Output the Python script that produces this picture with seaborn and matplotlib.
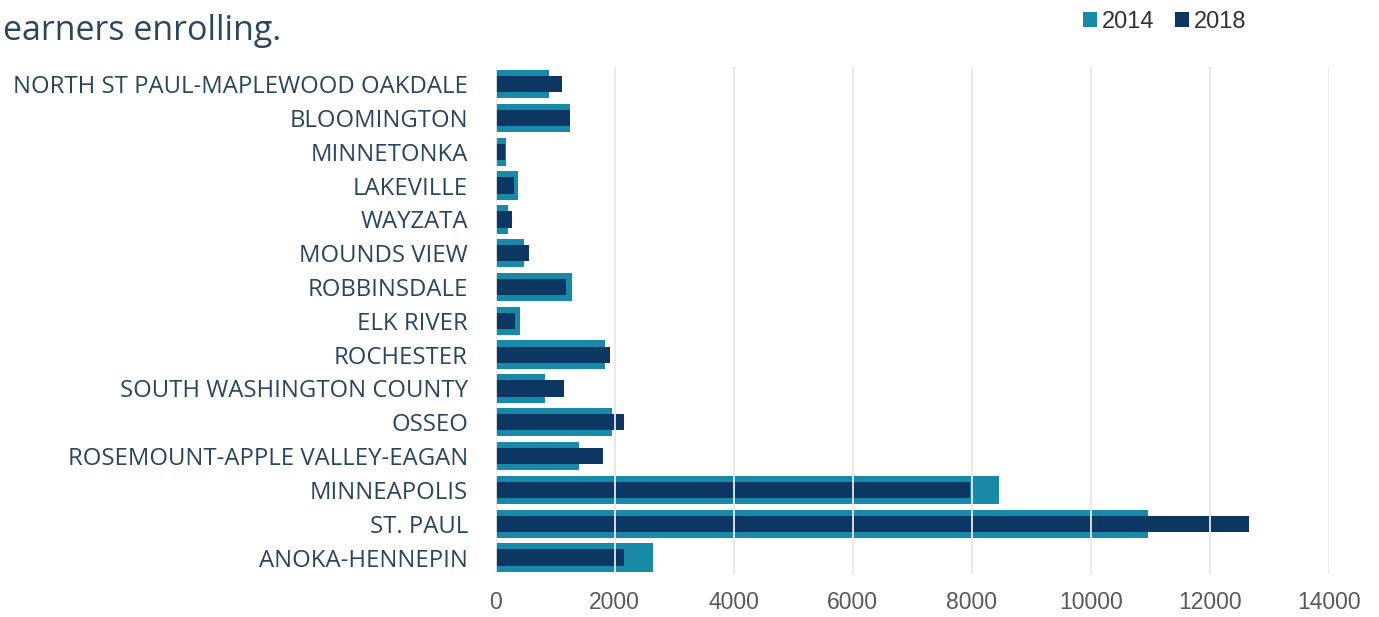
import matplotlib
matplotlib.use("Agg")
import matplotlib.pyplot as plt
import seaborn as sns
import pandas as pd
from matplotlib.patches import Patch

# School districts, listed top to bottom
districts = [
    "NORTH ST PAUL-MAPLEWOOD OAKDALE",
    "BLOOMINGTON",
    "MINNETONKA",
    "LAKEVILLE",
    "WAYZATA",
    "MOUNDS VIEW",
    "ROBBINSDALE",
    "ELK RIVER",
    "ROCHESTER",
    "SOUTH WASHINGTON COUNTY",
    "OSSEO",
    "ROSEMOUNT-APPLE VALLEY-EAGAN",
    "MINNEAPOLIS",
    "ST. PAUL",
    "ANOKA-HENNEPIN",
]

# Enrolled English learners per district
enroll_2014 = [900, 1255, 175, 380, 205, 480, 1290, 415, 1840, 835,
               1950, 1395, 8460, 10970, 2645]
enroll_2018 = [1115, 1240, 155, 315, 280, 560, 1180, 320, 1915, 1150,
               2160, 1810, 7970, 12665, 2155]

years = ["2014", "2018"]
tick_values = list(range(0, 14001, 2000))

teal = "#1889a6"
navy = "#0c3763"
label_color = "#2a4561"

df = pd.DataFrame({"district": districts, "y2014": enroll_2014, "y2018": enroll_2018})

sns.set_theme(style="white")
plt.rcParams["font.family"] = ["Liberation Sans", "DejaVu Sans"]

fig = plt.figure(figsize=(13.79, 6.17), dpi=100)
ax = fig.add_axes([0.3595, 0.069, 0.604, 0.822])

sns.barplot(data=df, x="y2014", y="district", color=teal, width=0.84,
            saturation=1, orient="h", linewidth=0, ax=ax)
sns.barplot(data=df, x="y2018", y="district", color=navy, width=0.48,
            saturation=1, orient="h", linewidth=0, ax=ax)

ax.set_xlim(0, 14000)
ax.set_ylim(len(districts) - 0.5, -0.5)
ax.set_xticks(tick_values)
ax.set_xticklabels([str(v) for v in tick_values])
ax.set_xlabel("")
ax.set_ylabel("")

ax.grid(axis="x", color="#e8e8e8", linewidth=1.3)
ax.grid(axis="y", visible=False)
ax.set_axisbelow(False)
for side in ["top", "right", "left", "bottom"]:
    ax.spines[side].set_visible(False)

ax.tick_params(axis="x", length=0, pad=12, labelsize=16.5, labelcolor="#595959")
ax.tick_params(axis="y", length=0, pad=20, labelsize=17.2, labelcolor=label_color)
for lbl in ax.get_yticklabels():
    lbl.set_fontfamily(["Open Sans", "DejaVu Sans"])

# Legend in the upper right
handles = [Patch(facecolor=teal, edgecolor="none"), Patch(facecolor=navy, edgecolor="none")]
fig.legend(handles, years, loc="center left", bbox_to_anchor=(0.785, 0.964),
           ncol=2, frameon=False, fontsize=17, handlelength=0.6, handleheight=0.6,
           handletextpad=0.2, columnspacing=0.9, borderpad=0, borderaxespad=0,
           labelcolor="#333333")

fig.text(0.002, 0.935, "earners enrolling.", fontsize=24.5, color="#2c4660",
         family=["Open Sans", "DejaVu Sans"], ha="left", va="baseline")

fig.savefig("out.png", dpi=100, facecolor="white")
